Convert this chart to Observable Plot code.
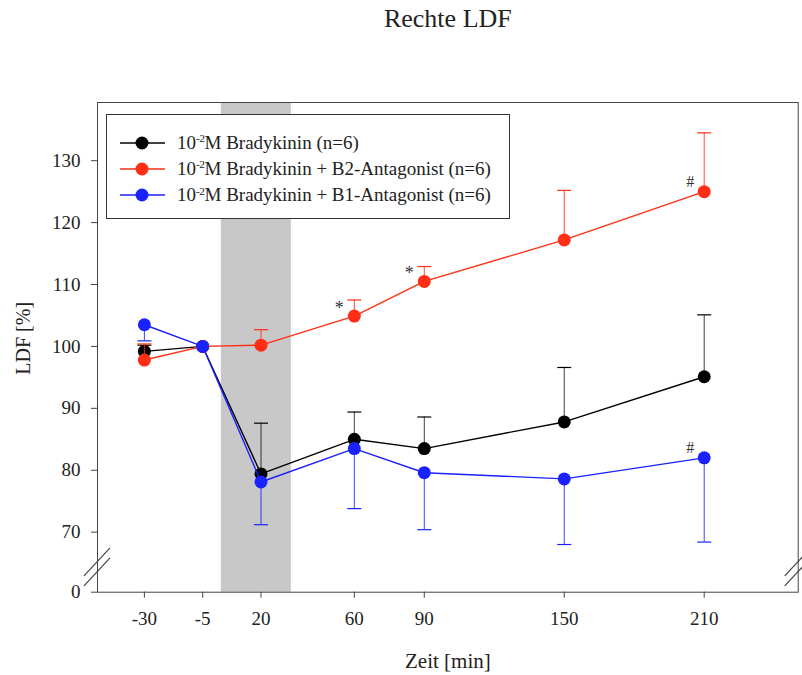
<!DOCTYPE html>
<html>
<head>
<meta charset="utf-8">
<script src="https://cdn.jsdelivr.net/npm/d3@7"></script>
<script src="https://cdn.jsdelivr.net/npm/@observablehq/plot@0.6"></script>
<style>
  body { margin: 0; background: #fff; }
  #wrap { position: relative; width: 802px; height: 675px; font-family: "Liberation Serif", "Times New Roman", serif; color: #222; }
  #legend { position: absolute; left: 106px; top: 114px; width: 404px; height: 105px; border: 1px solid #333; background: #fff; box-sizing: border-box; }
  .row { position: absolute; left: 0; height: 20px; white-space: nowrap; font-size: 19px; line-height: 20px; }
  .row svg { position: absolute; left: 13px; top: 0; }
  .row span { position: absolute; left: 70px; top: 0; }
  sup { font-size: 0.6em; vertical-align: 0; position: relative; top: -0.55em; letter-spacing: -0.5px; }
</style>
</head>
<body>
<div id="wrap"><div id="legend"></div></div>
<script>
// ---- data ----
const times = [-30, -5, 20, 60, 90, 150, 210];
const seriesNames = ["Bradykinin", "B2-Antagonist", "B1-Antagonist"];
const legendLabels = [
  "10<sup>-2</sup>M Bradykinin (n=6)",
  "10<sup>-2</sup>M Bradykinin + B2-Antagonist (n=6)",
  "10<sup>-2</sup>M Bradykinin + B1-Antagonist (n=6)"
];
const seriesColors = ["#000000", "#ff2e14", "#1a22ff"];
const bradykinin    = [99.2, 100, 79.4, 85.0, 83.5, 87.8, 95.1];
const bradykininErr = [1.0, 0, 8.2, 4.4, 5.1, 8.8, 10.0];
const b2Antagonist    = [97.8, 100, 100.2, 104.9, 110.5, 117.2, 125.0];
const b2AntagonistErr = [2.6, 0, 2.5, 2.6, 2.4, 8.0, 9.5];
const b1Antagonist    = [103.5, 100, 78.1, 83.5, 79.6, 78.6, 82.0];
const b1AntagonistErr = [2.6, 0, 6.9, 9.7, 9.2, 10.6, 13.6];
const errDirection = [1, 1, -1];           // error bars drawn up / up / down
const yTicks = [70, 80, 90, 100, 110, 120, 130];
const yBreakLabel = "0";
const stimulusStart = 3, stimulusEnd = 33; // grey band (min)
const annotTime = [60, 90, 210, 210];
const annotSeries = [1, 1, 1, 2];
const annotSymbol = ["*", "*", "#", "#"];

const xDomain = [-50.1, 250.3];
const yDomain = [60.3, 139.4];
const breakValue = 64.3;

const values = [bradykinin, b2Antagonist, b1Antagonist];
const errs = [bradykininErr, b2AntagonistErr, b1AntagonistErr];

const rows = [];
seriesNames.forEach((s, i) => times.forEach((t, j) => rows.push({
  series: s, si: i, time: t, value: values[i][j], err: errs[i][j], dir: errDirection[i]
})));
const annotations = annotTime.map((t, k) => ({
  time: t, value: values[annotSeries[k]][times.indexOf(t)], sym: annotSymbol[k]
}));

const capSymbol = {
  draw(context, size) {
    const w = Math.sqrt(size / Math.PI);
    context.moveTo(-w, 0); context.lineTo(w, 0);
  }
};

const seriesMarks = [];
seriesNames.forEach((s, i) => {
  const data = rows.filter(d => d.si === i);
  const withErr = data.filter(d => d.err > 0);
  const col = seriesColors[i];
  seriesMarks.push(
    Plot.ruleX(withErr, {x: "time", y1: "value", y2: d => d.value + d.dir * d.err, stroke: col, strokeWidth: 1, strokeOpacity: i === 0 ? 0.75 : 0.85}),
    Plot.dot(withErr, {x: "time", y: d => d.value + d.dir * d.err, symbol: capSymbol, r: 7, stroke: col, fill: "none", strokeWidth: 1.2}),
    Plot.line(data, {x: "time", y: "value", stroke: col, strokeWidth: 1.4}),
    Plot.dot(data, {x: "time", y: "value", fill: col, r: 6.5})
  );
});

const plot = Plot.plot({
  width: 802,
  height: 675,
  marginLeft: 97,
  marginRight: 4.3,
  marginTop: 102,
  marginBottom: 83.3,
  style: {fontFamily: "Liberation Serif, Times New Roman, serif", fontSize: "19px", color: "#222", background: "#fff"},
  x: {domain: xDomain},
  y: {domain: yDomain},
  marks: [
    Plot.rect([{a: stimulusStart, b: stimulusEnd}], {x1: "a", x2: "b", y1: () => yDomain[0], y2: () => yDomain[1], fill: "#c8c8c8"}),
    Plot.axisX({ticks: times, tickFormat: d => String(d), tickSize: 6, tickPadding: 13, label: null, stroke: "#444"}),
    Plot.axisY({ticks: [yDomain[0], ...yTicks], tickFormat: d => d === yDomain[0] ? yBreakLabel : String(d), tickSize: 6, tickPadding: 11, label: null, stroke: "#444"}),
    ...seriesMarks,
    Plot.text(annotations.filter(d => d.sym === "*"), {x: "time", y: "value", text: "sym", dx: -15, dy: -8, fontSize: 18, fill: "#333"}),
    Plot.text(annotations.filter(d => d.sym === "#"), {x: "time", y: "value", text: "sym", dx: -14, dy: -10, fontSize: 16, fill: "#333"}),
    Plot.frame({stroke: "#444", strokeWidth: 1}),
    Plot.text(["Rechte LDF"], {frameAnchor: "top", dy: -84, lineAnchor: "middle", fontSize: 26, fill: "#222"}),
    Plot.text(["Zeit [min]"], {frameAnchor: "bottom", dy: 69, lineAnchor: "middle", fontSize: 21, fill: "#222"}),
    Plot.text(["LDF [%]"], {frameAnchor: "left", dx: -74.3, dy: -9, rotate: -90, textAnchor: "middle", lineAnchor: "middle", fontSize: 20, fill: "#222"})
  ]
});

// axis break marks, placed through the plot's own scales
const sx = plot.scale("x"), sy = plot.scale("y");
const yb = sy.apply(breakValue);
const svg = d3.select(plot);
[sx.apply(xDomain[0]), sx.apply(xDomain[1])].forEach(xp => {
  [-5, 5].forEach(off => {
    svg.append("line")
      .attr("x1", xp - 13).attr("y1", yb + off + 14)
      .attr("x2", xp + 13).attr("y2", yb + off - 14)
      .attr("stroke", "#444").attr("stroke-width", 1.2);
  });
});

document.getElementById("wrap").prepend(plot);

// legend
const legend = document.getElementById("legend");
const rowCenters = [27.7, 53.7, 80.3];
legendLabels.forEach((lab, i) => {
  const div = document.createElement("div");
  div.className = "row";
  div.style.top = (rowCenters[i] - 10) + "px";
  div.innerHTML = `<svg width="46" height="20"><line x1="0" x2="45" y1="10" y2="10" stroke="${seriesColors[i]}" stroke-width="1.4"/><circle cx="22" cy="10" r="6.5" fill="${seriesColors[i]}"/></svg><span>${lab}</span>`;
  legend.appendChild(div);
});
</script>
</body>
</html>
